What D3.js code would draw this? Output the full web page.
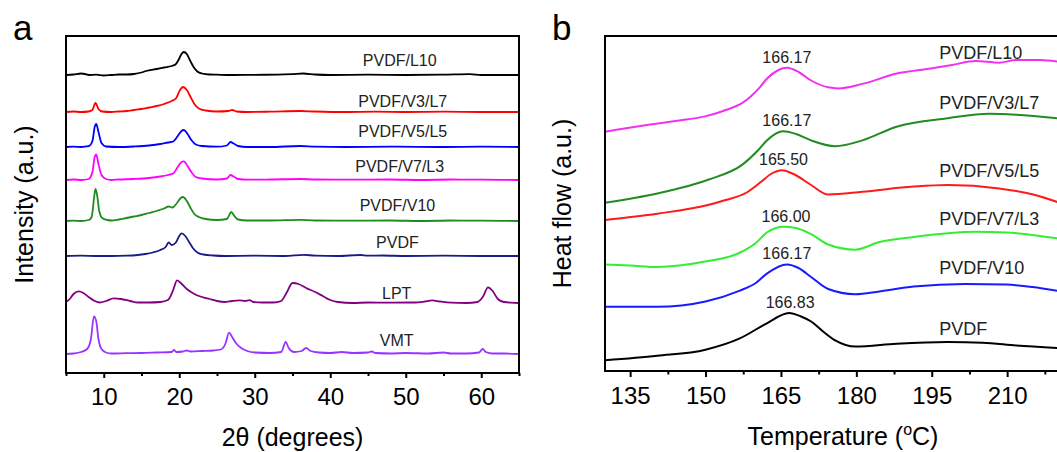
<!DOCTYPE html>
<html>
<head>
<meta charset="utf-8">
<script src="https://cdnjs.cloudflare.com/ajax/libs/d3/7.8.5/d3.min.js"></script>
<style>
  body { margin: 0; background: #fff; }
  text { font-family: "Liberation Sans", Arial, sans-serif; fill: #000; }
</style>
</head>
<body>
<script>
// ---------- data: panel a (XRD), [2theta, relative intensity] ----------
var xrdNames = ["PVDF/L10", "PVDF/V3/L7", "PVDF/V5/L5", "PVDF/V7/L3", "PVDF/V10", "PVDF", "LPT", "VMT"];
var xrdOffsets = [298, 261, 226, 193, 152, 117, 70, 19];
var xrdTicks = [10, 20, 30, 40, 50, 60];

var xrdL10 = [[5,0],[6,0.5],[7,1.5],[7.5,1],[8,0],[9,0.3],[10,-0.5],[11,0],[12,0.5],[13,0.5],[14,1],[15,2.5],[15.6,4],[17,6],[18,7.5],[19,9],[19.5,10.5],[19.9,15],[20.3,21],[20.6,23],[21,21],[21.4,15],[21.9,8],[22.4,3.5],[23,1.5],[24,0.5],[25,0.3],[27,0],[30,0.2],[33,0.3],[35,0.8],[36.4,1.5],[38,0.5],[40,0],[45,0.3],[50,0],[55,0.3],[58.5,0.8],[60,0],[65,0]];
var xrdV3L7 = [[5,0],[6,0.5],[7,0],[8,0.5],[8.5,2],[8.9,9],[9.3,3],[9.8,0.5],[11,0],[12,0.5],[13,1],[14,2],[15,3],[16,4.5],[17,6],[18,8],[19,11],[19.6,14],[20.1,22],[20.5,25],[21,22],[21.5,15],[22,8],[22.6,3.5],[23.5,1.5],[25,0.5],[26.5,1],[27,2],[27.6,0.5],[29,0],[32,0.3],[36,1],[38,0.5],[42,0],[46,0.3],[50,0],[55,0.3],[60,0],[65,0]];
var xrdV5L5 = [[5,0],[6,0.3],[7,0],[8,0.8],[8.5,6],[8.8,20],[9,23],[9.3,15],[9.7,4],[10.3,0.5],[12,0],[14,0.5],[16,1.5],[17.5,3],[18.5,4.5],[19.2,5.5],[19.8,11],[20.3,16],[20.6,17],[21.1,13],[21.6,7],[22.2,2.5],[23,1],[25,0.3],[26.3,1.5],[26.8,5],[27.2,3.5],[27.8,1],[29,0],[32,0],[36,1],[38,0.3],[42,0],[48,0.3],[55,0],[60,0.3],[65,0]];
var xrdV7L3 = [[5,0],[6,0.5],[7,0],[8,1],[8.5,8],[8.8,23],[9,25.5],[9.3,16],[9.7,5],[10.3,1],[11,0],[12,0.5],[14,1],[16,2],[17.5,3.5],[18.5,5],[19.2,6.5],[19.8,13],[20.3,18],[20.6,18.6],[21.1,14],[21.6,8],[22.2,3],[23,1.5],[25,0.5],[26.3,1.5],[26.8,5],[27.2,3.5],[27.8,1],[29,0.3],[32,0.5],[36,1],[38,0.5],[42,0.3],[48,0.5],[52,0],[56,0.5],[60,0.3],[65,0]];
var xrdV10 = [[5,0],[6,0.3],[7,0],[8,1],[8.4,4],[8.7,22],[8.9,32],[9.1,27],[9.4,10],[9.8,3],[10.5,1],[11,0.5],[12,1.5],[13,3],[14,4.5],[15,6],[16,8],[17,10],[18,12.5],[18.6,14.5],[19.1,13.5],[19.7,18],[20.2,23],[20.5,24],[21,20],[21.5,13],[22,7],[22.6,4],[23.5,2],[25,1],[26.3,2],[26.9,9],[27.3,5],[27.8,1.5],[29,0.5],[32,0.5],[36,1.2],[38,0.5],[42,0.3],[48,0.5],[52,0],[56,0.5],[60,0.3],[65,0]];
var xrdPVDF = [[5,0],[7,0.3],[9,0],[11,0],[13,0.3],[14.5,1],[15.5,2],[16.5,3.5],[17.5,6],[18.2,9],[18.6,13.5],[19,11],[19.5,13],[20,20],[20.3,22.6],[20.8,20],[21.3,14],[21.8,8],[22.4,3.5],[23.2,1.5],[24.5,0.5],[26,0],[30,0.3],[34,0],[36.5,1.2],[38,0.3],[41,0],[44,1],[45,0.3],[47,0.5],[50,0],[55,0.3],[60,0],[65,0]];
var xrdLPT = [[5,1],[5.5,4],[6,9],[6.7,11.6],[7.3,10],[8,6],[8.8,2],[9.5,0.5],[10.3,2],[11.3,4.6],[12.3,4],[13.5,2],[14.5,0.5],[16,0.5],[17.5,1],[18.5,3],[19.2,13],[19.7,22.6],[20.2,20],[21,14],[22,9],[23,6],[24,4],[25,2],[26,1],[27,2],[28,2.6],[28.7,2],[29.3,2.8],[29.8,1],[31,0.5],[32.5,0.5],[33.5,2],[34.2,10],[35,20],[35.8,19],[36.8,15],[38,11],[39,7],[40,3],[41,1],[43,0],[45,0.5],[48,0.3],[51,0.5],[52.5,1.5],[53.5,2.6],[54.5,1.5],[56,0.3],[58,0],[59.5,1],[60.2,6],[60.9,15.6],[61.5,12],[62.2,4],[63,1],[64,0.3],[65,0]];
var xrdVMT = [[5,0],[6,0.5],[7,2],[7.8,5],[8.3,15],[8.7,37.6],[9.0,33],[9.3,15],[9.7,5],[10.3,1.5],[11,0.5],[13,0.8],[15,1],[17,1.5],[19,2],[19.3,4],[19.6,2],[20.5,2.5],[21,3.5],[21.5,2.5],[23,3],[24.5,3.5],[25.5,4.5],[26.1,10],[26.6,21.4],[27,17],[27.5,11],[28.2,6],[29,3],[30,1.5],[32,1],[33.5,2],[34.1,12],[34.5,6],[35.2,2],[36.2,3],[36.8,6],[37.4,3],[38.5,1.5],[40,1],[41.5,2],[43,1],[45,1.5],[45.5,2.5],[46,1],[48,0.5],[50,1],[53,0.5],[55,1.5],[56,0.5],[58,0.5],[59.7,1.5],[60.2,5],[60.6,2],[61.5,0.5],[63,0.5],[65,0]];
var xrdSeries = [xrdL10, xrdV3L7, xrdV5L5, xrdV7L3, xrdV10, xrdPVDF, xrdLPT, xrdVMT];

// ---------- data: panel b (DSC), [temperature, heat flow a.u.] ----------
var dscNames = ["PVDF/L10", "PVDF/V3/L7", "PVDF/V5/L5", "PVDF/V7/L3", "PVDF/V10", "PVDF"];
var dscPeakLabels = ["166.17", "166.17", "165.50", "166.00", "166.17", "166.83"];
var dscTicks = [135, 150, 165, 180, 195, 210];

var dscL10 = [[130,239.2],[138.3,246],[144,250],[149.9,254.6],[153.5,260],[157.4,268.3],[160.8,283.7],[162.2,292.2],[164.5,301],[166.2,303.2],[168.5,299],[171,290.5],[174.4,283.7],[176.4,282.6],[181.2,287.1],[188,297.4],[194.8,302.5],[199,306],[203.7,310],[208.4,308.3],[211.8,311],[216.6,311],[220,309.4]];
var dscV3L7 = [[130,168.3],[140.4,177.5],[150.5,191.2],[157.4,206.6],[160.5,221],[162.2,230.6],[165.5,239.8],[168,237],[171,230.6],[175.8,224.8],[181.2,230.6],[188,244.3],[198.2,252.8],[206.4,257.3],[211.8,256.3],[220,252.8]];
var dscV5L5 = [[130,151.1],[140.4,157.3],[150.5,166],[154,171],[158,178],[161,189],[163,197],[165.2,200.8],[167.5,197],[171,186],[174.4,176.5],[181.2,179.2],[191.4,184.4],[198.2,186],[208.4,182.6],[215.2,176.5],[220,169]];
var dscV7L3 = [[130,106.6],[135,105.5],[140.4,104],[149.9,109.4],[156.7,118],[160,128],[162.2,138.5],[165.5,144.3],[168,143],[171,136.8],[174.4,126.5],[179.8,121.3],[184.6,129],[191.4,134],[203.7,139.2],[209.8,138.5],[220,132.6]];
var dscV10 = [[130,64.2],[140.4,64.2],[150,69.6],[156.7,80.2],[160,88],[162.2,97.4],[166.2,106.6],[168.5,103],[171,94],[174.4,82],[179.8,76.8],[184.6,79.6],[191.4,84.4],[201.6,87],[209.8,86.4],[215,84],[220,80.2]];
var dscPVDF = [[130,10.7],[140.4,15.2],[150,21.3],[156.7,32.3],[162.2,47.7],[166.6,58],[169,54.5],[171,49.5],[173.5,39],[175.8,30.6],[179.8,24.4],[188,27.2],[198.2,28.9],[205.1,28.2],[211.8,25.5],[220,23]];
var dscSeries = [dscL10, dscV3L7, dscV5L5, dscV7L3, dscV10, dscPVDF];

// ---------- layout ----------
var svgWidth = 1057;
var svgHeight = 452;

var svg = d3.select("body")
  .append("svg")
  .attr("width", svgWidth)
  .attr("height", svgHeight);

var font = "'Liberation Sans', Arial, sans-serif";

// ===== panel a =====
var xrdColors = ["#000000", "#ff0000", "#0000ff", "#ff00ff", "#1e8c1e", "#1a1a8c", "#800080", "#9933ff"];

var xA = d3.scaleLinear().domain([5, 65]).range([66, 519]);
var yA = d3.scaleLinear().domain([0, 337]).range([373, 36]);

var gA = svg.append("g");

xrdSeries.forEach(function(series, i) {
  var line = d3.line()
    .x(d => xA(d[0]))
    .y(d => yA(d[1] + xrdOffsets[i]))
    .curve(d3.curveMonotoneX);
  gA.append("path")
    .datum(series)
    .attr("d", line)
    .attr("fill", "none")
    .attr("stroke", xrdColors[i])
    .attr("stroke-width", 1.8);
});

// series labels, centred over the right half
var xrdLabelY = [9, 5, 10, 8, 10, 8, 4.5, 8];
var xrdLabelX = [49.2, 49.6, 49.6, 49.2, 48.9, 48.9, 48.8, 48.8];
xrdNames.forEach(function(name, i) {
  gA.append("text")
    .attr("x", xA(xrdLabelX[i]))
    .attr("y", yA(xrdOffsets[i] + xrdLabelY[i]))
    .attr("text-anchor", "middle")
    .style("font-size", "16px")
    .style("fill", "#222")
    .text(name);
});

// axes
var bottomA = d3.axisBottom(xA).tickValues(xrdTicks).tickSize(5).tickPadding(10).tickFormat(d3.format("d"));
var minorA = d3.axisBottom(xA).tickValues([5, 15, 25, 35, 45, 55, 65]).tickSize(3).tickFormat("");

gA.append("g").attr("transform", `translate(0, ${yA(0)})`).call(bottomA);
gA.append("g").attr("transform", `translate(0, ${yA(0)})`).call(minorA);

gA.append("rect")
  .attr("x", 66).attr("y", 36)
  .attr("width", 519 - 66).attr("height", 373 - 36)
  .attr("fill", "none").attr("stroke", "#000").attr("stroke-width", 2);

gA.append("text")
  .attr("x", (66 + 519) / 2).attr("y", 446)
  .attr("text-anchor", "middle")
  .style("font-size", "25px")
  .text("2\u03b8 (degrees)");

gA.append("text")
  .attr("transform", `translate(33, ${(36 + 373) / 2}) rotate(-90)`)
  .attr("text-anchor", "middle")
  .style("font-size", "25px")
  .text("Intensity (a.u.)");

gA.append("text")
  .attr("x", 13).attr("y", 40)
  .style("font-size", "35px")
  .text("a");

// ===== panel b =====
var dscColors = ["#f032f0", "#228b22", "#ff1a1a", "#33ee33", "#1a1aff", "#000000"];

var xB = d3.scaleLinear().domain([130, 225]).range([605, 605 + 95 * 5.027]);
var yB = d3.scaleLinear().domain([0, 335]).range([371, 36]);

var gB = svg.append("g");

dscSeries.forEach(function(series, i) {
  var line = d3.line()
    .x(d => xB(d[0]))
    .y(d => yB(d[1]))
    .curve(d3.curveMonotoneX);
  gB.append("path")
    .datum(series)
    .attr("d", line)
    .attr("fill", "none")
    .attr("stroke", dscColors[i])
    .attr("stroke-width", 2);

  // peak temperature label above the melting peak
  var peak = series.reduce((a, b) => (b[0] > 160 && b[0] < 172 && b[1] > a[1]) ? b : a, [0, -1]);
  gB.append("text")
    .attr("x", xB(+dscPeakLabels[i]))
    .attr("y", yB(peak[1]) - 5)
    .attr("text-anchor", "middle")
    .style("font-size", "16px")
    .style("fill", "#222")
    .text(dscPeakLabels[i]);
});

var dscLabelY = [312, 262, 194, 146, 97, 36];
dscNames.forEach(function(name, i) {
  gB.append("text")
    .attr("x", xB(196.5))
    .attr("y", yB(dscLabelY[i]))
    .style("font-size", "18px")
    .style("fill", "#222")
    .text(name);
});

var bottomB = d3.axisBottom(xB).tickValues(dscTicks).tickSize(6).tickPadding(10).tickFormat(d3.format("d"));
var minorB = d3.axisBottom(xB).tickValues([142.5, 157.5, 172.5, 187.5, 202.5, 217.5]).tickSize(3.5).tickFormat("");

gB.append("g").attr("transform", `translate(0, ${yB(0)})`).call(bottomB);
gB.append("g").attr("transform", `translate(0, ${yB(0)})`).call(minorB);

gB.append("rect")
  .attr("x", 605).attr("y", 36)
  .attr("width", xB(225) - 605).attr("height", 371 - 36)
  .attr("fill", "none").attr("stroke", "#000").attr("stroke-width", 2);

var tTitle = gB.append("text")
  .attr("x", 843).attr("y", 445)
  .attr("text-anchor", "middle")
  .style("font-size", "25px");
tTitle.append("tspan").text("Temperature (");
tTitle.append("tspan").attr("dy", -10).style("font-size", "16px").text("o");
tTitle.append("tspan").attr("dy", 10).text("C)");

gB.append("text")
  .attr("transform", `translate(571, ${(36 + 371) / 2}) rotate(-90)`)
  .attr("text-anchor", "middle")
  .style("font-size", "25px")
  .text("Heat flow (a.u.)");

gB.append("text")
  .attr("x", 552).attr("y", 40)
  .style("font-size", "35px")
  .text("b");

// axis styling
svg.selectAll(".domain").remove();
svg.selectAll(".tick line").attr("stroke", "#000").attr("stroke-width", 2);
svg.selectAll(".tick text").style("font-size", "24px").style("font-family", font).attr("fill", "#000");
</script>
</body>
</html>
